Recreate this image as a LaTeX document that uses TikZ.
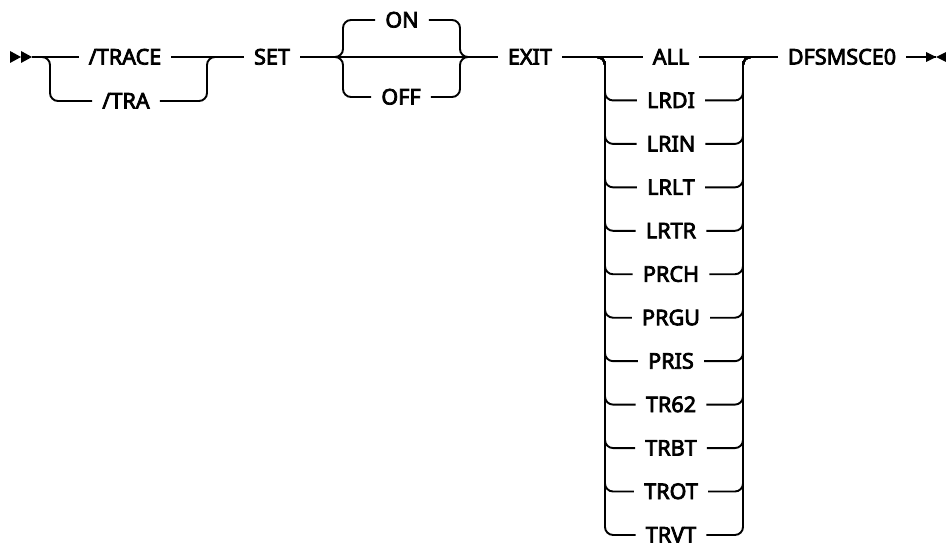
\documentclass[tikz,border=0pt]{standalone}
\usepackage{fontspec}
\newfontfamily\diagfont{Noto Sans}[Scale=1.08, FakeBold=3.5]
\begin{document}
\begin{tikzpicture}[x=1pt,y=-1pt,
  ln/.style={line width=1.9pt},
  br/.style={line width=1.9pt, rounded corners=8pt},
  kw/.style={font=\fontsize{20}{24}\diagfont, inner xsep=10pt, inner ysep=0pt,
             text height=15pt, text depth=0pt}]
\useasboundingbox (0,0) rectangle (946,543);
% start / end marks
\fill (10,51) -- (21,57) -- (10,63) -- cycle;
\fill (21,51) -- (32,57) -- (21,63) -- cycle;
\coordinate (start) at (32,57);
\coordinate (stop) at (936,57);
\fill (926,52) -- (936,57) -- (926,62) -- cycle;
\fill (946,52) -- (936,57) -- (946,62) -- cycle;
% keywords
\node[kw] (trace) at (125,57) {/TRACE};
\node[kw] (tra) at (126,101) {/TRA};
\node[kw] (set) at (272,57) {SET};
\node[kw] (on) at (402,20) {ON};
\node[kw] (off) at (401,97) {OFF};
\node[kw] (exit) at (530,57) {EXIT};
\node[kw] (dfs) at (842,57) {DFSMSCE0};
\foreach \t [count=\i from 0] in {ALL,LRDI,LRIN,LRLT,LRTR,PRCH,PRGU,PRIS,TR62,TRBT,TROT,TRVT}
  \node[kw] (it\i) at (671,57+43.45*\i) {\t};
% branch points
\coordinate (a0) at (42,57);  \coordinate (a1) at (50,57);
\coordinate (b1) at (207,57); \coordinate (b2) at (215,57);
\coordinate (c0) at (335,57); \coordinate (c1) at (343,57);
\coordinate (d1) at (460,57); \coordinate (d2) at (468,57);
\coordinate (e0) at (597,57); \coordinate (e1) at (605,57);
\coordinate (f1) at (743,57); \coordinate (f2) at (751,57);
% main line
\draw[ln] (start) -- (trace);
\draw[ln] (trace) -- (set);
\draw[ln] (set) -- (exit);
\draw[ln] (exit) -- (it0);
\draw[ln] (it0) -- (dfs);
\draw[ln] (dfs) -- (stop);
% /TRACE | /TRA
\draw[br] (a0) -- (a1) |- (tra);
\draw[br] (tra) -| (b1) -- (b2);
% ON | OFF
\draw[br] (c0) -- (c1) |- (on);
\draw[br] (c0) -- (c1) |- (off);
\draw[br] (on) -| (d1) -- (d2);
\draw[br] (off) -| (d1) -- (d2);
% exit list
\foreach \i in {1,...,11} {
  \draw[br] (e0) -- (e1) |- (it\i);
  \draw[br] (it\i) -| (f1) -- (f2);
}
\end{tikzpicture}
\end{document}
